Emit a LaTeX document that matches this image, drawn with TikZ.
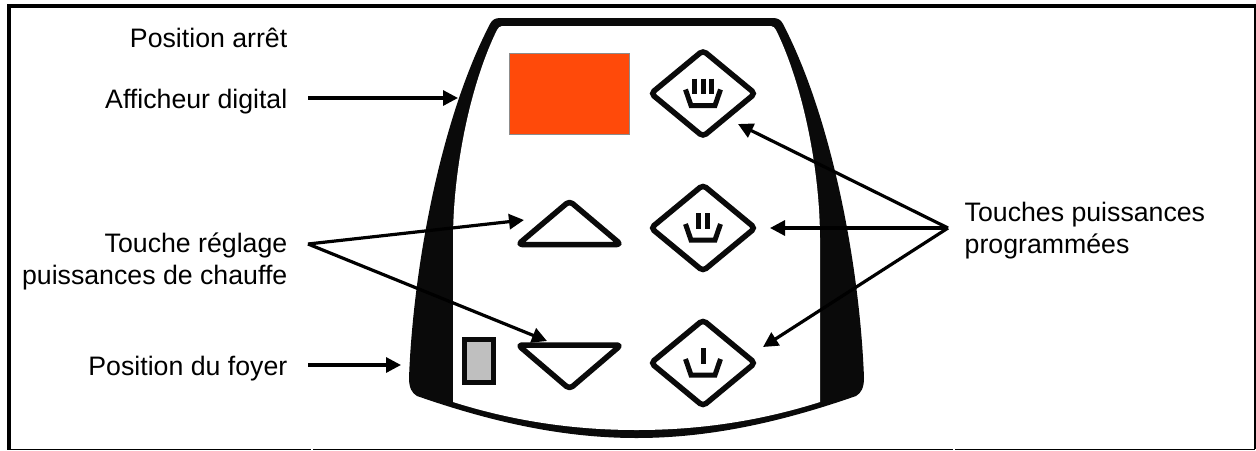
\documentclass[tikz,border=0pt]{standalone}
\usepackage{fontspec}
\setmainfont{Liberation Sans}
\usetikzlibrary{arrows.meta,shapes.geometric,calc}
\definecolor{panelblack}{HTML}{0A0A0A}
\definecolor{screenorange}{HTML}{FF4A0A}
\tikzset{
  lbl/.style={font=\fontsize{26.7}{31.5}\selectfont,inner sep=0pt,anchor=base east,align=right},
  lblL/.style={font=\fontsize{26.7}{31.5}\selectfont,inner sep=0pt,anchor=base west,align=left},
  callout/.style={line width=3.2pt,-{Triangle[length=15pt,width=15pt]},black},
  keyd/.style={shape=diamond,draw=panelblack,line width=5.5pt,rounded corners=4pt,aspect=1.22,
    minimum width=104pt,minimum height=86pt,inner sep=0pt,outer sep=0pt},
  tri/.style={draw=panelblack,line width=5.5pt,rounded corners=4pt,line join=round},
  icon/.style={draw=panelblack,line width=5pt},
}
\newcommand{\basket}[1]{\draw[icon,line join=miter] ($(#1)+(-17.5,-4)$) -- ($(#1)+(-12,12)$) -- ($(#1)+(12,12)$) -- ($(#1)+(17.5,-4)$);}
\newcommand{\keybar}[2]{\draw[icon] ($(#1)+(#2,-15)$) -- ($(#1)+(#2,0.5)$);}
\begin{document}
\begin{tikzpicture}[x=1pt,y=-1pt]
\useasboundingbox (0,0) rectangle (1256,450);
% frame
\draw[line width=4pt] (1256,6) -- (9,6) -- (9,450);
\draw[line width=1.5pt] (1255,6) -- (1255,449.3);
\draw[line width=1.5pt] (9,449.3) -- (311,449.3) (313,449.3) -- (953,449.3) (955,449.3) -- (1255,449.3);
% panel
\fill[panelblack] (500,18) -- (773,18)
  .. controls (778,18) and (781,20) .. (783,24)
  .. controls (833,120) and (860,270) .. (864,378)
  .. controls (864,388) and (861,393) .. (856,396)
  .. controls (773,425) and (703,438) .. (636.5,438)
  .. controls (570,438) and (500,425) .. (417,396)
  .. controls (412,393) and (409,388) .. (409,378)
  .. controls (413,270) and (440,120) .. (490,24)
  .. controls (492,20) and (495,18) .. (500,18) -- cycle;
\fill[white] (502,26) -- (771,26)
  .. controls (773,26) and (775,28) .. (776,30)
  .. controls (803,85) and (820,170) .. (820,240)
  -- (820,402)
  .. controls (763,420) and (703,430) .. (636.5,430)
  .. controls (570,430) and (510,420) .. (453,402)
  -- (453,240)
  .. controls (453,170) and (470,85) .. (497,30)
  .. controls (498,28) and (500,26) .. (502,26) -- cycle;
% display
\draw[draw=black!45,line width=0.8pt,fill=screenorange] (509.5,53) rectangle (629.5,134.5);
% position rectangle
\draw[panelblack,line width=5pt,fill=black!25] (464.5,339.5) rectangle (493.5,382.5);
% triangles
\draw[tri] (569.5,201) -- (621,244.5) -- (518,244.5) -- cycle;
\draw[tri] (518,345) -- (621,345) -- (569.5,389) -- cycle;
% keys
\node[keyd] (k3) at (703,93.5) {};
\node[keyd] (k2) at (703,228) {};
\node[keyd] (k1) at (703,363) {};
\basket{k3}\keybar{k3}{-8.5}\keybar{k3}{0}\keybar{k3}{8.5}
\basket{k2}\keybar{k2}{-4.5}\keybar{k2}{4.5}
\basket{k1}\keybar{k1}{0}
% labels
\node[lbl] (arret) at (287.5,47.7) {Position arrêt};
\node[lbl] (aff) at (287.5,108.3) {Afficheur digital};
\node[lbl] (regl) at (287.5,284.2) {Touche réglage\\puissances de chauffe};
\node[lbl] (foyer) at (287.5,375) {Position du foyer};
\node[lblL] (prog) at (964.5,253) {Touches puissances\\programmées};
% connector ends
\coordinate (a1) at (308,98);   \coordinate (a2) at (458,98);
\coordinate (r0) at (308,244);  \coordinate (r1) at (524,220);  \coordinate (r2) at (547,341);
\coordinate (f1) at (308,365);  \coordinate (f2) at (401,365);
\coordinate (p0) at (948,228);  \coordinate (p3) at (738,124);  \coordinate (p2) at (770,228);  \coordinate (p1) at (763,347);
\draw[callout] (a1) -- (a2);
\draw[callout] (r0) -- (r1);
\draw[callout] (r0) -- (r2);
\draw[callout] (f1) -- (f2);
\draw[callout] (p0) -- (p3);
\draw[callout] (p0) -- (p2);
\draw[callout] (p0) -- (p1);
\end{tikzpicture}
\end{document}
